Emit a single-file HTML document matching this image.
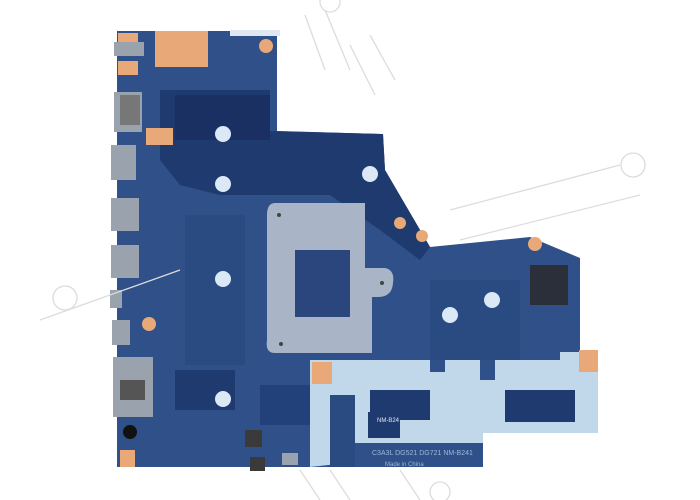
<!DOCTYPE html>
<html><head><meta charset="utf-8"><style>html,body{margin:0;padding:0;background:#fff;width:700px;height:500px;overflow:hidden}</style></head>
<body>
<svg width="700" height="500" viewBox="0 0 700 500" xmlns="http://www.w3.org/2000/svg">
<rect width="700" height="500" fill="#fff"/>
<!-- board -->
<polygon points="117,31 277,31 277,131 383,134 385,170 430,247 530,237 580,258 580,352 598,356 598,433 483,433 483,467 117,467" fill="#2f5088"/>
<!-- dark regions -->
<polygon points="160,90 270,90 270,131 383,134 385,170 430,247 420,260 380,230 330,195 220,195 180,185 160,160" fill="#1f3a6e"/>
<rect x="175" y="95" width="95" height="45" fill="#1a3062"/>
<rect x="185" y="215" width="60" height="150" fill="#2a4a82"/>
<rect x="175" y="370" width="60" height="40" fill="#1f3a6e"/>
<rect x="260" y="385" width="50" height="40" fill="#22407a"/>
<rect x="430" y="280" width="90" height="80" fill="#2a4a82"/>
<rect x="230" y="30" width="50" height="6" fill="#dfe8f2"/>
<!-- light region -->
<polygon points="310,360 430,360 430,372 445,372 445,360 480,360 480,380 495,380 495,360 560,360 560,352 580,352 598,356 598,433 483,433 483,448 310,467" fill="#c0d8ea"/>
<rect x="370" y="390" width="60" height="30" fill="#1f3a6e"/>
<rect x="368" y="412" width="32" height="26" fill="#1f3a6e"/>
<rect x="505" y="390" width="70" height="32" fill="#1f3a6e"/>
<rect x="330" y="395" width="25" height="72" fill="#2a4a82"/>
<rect x="355" y="443" width="128" height="24" fill="#2f5088"/>
<text x="372" y="455" font-family="Liberation Sans,sans-serif" font-size="7" fill="#9fb6d6">C3A3L DG521 DG721 NM-B241</text>
<text x="385" y="466" font-family="Liberation Sans,sans-serif" font-size="6" fill="#9fb6d6">Made in China</text>
<text x="377" y="422" font-family="Liberation Sans,sans-serif" font-size="6" fill="#dfe8f2">NM-B24</text>
<!-- heatsink bracket -->
<path d="M275,203 H365 V268 H385 Q395,270 393,283 Q392,297 378,297 H372 V353 H275 Q265,353 267,340 V215 Q267,203 275,203 Z" fill="#a9b5c6"/>
<rect x="295" y="250" width="55" height="67" fill="#2a467c"/>
<circle cx="279" cy="215" r="2" fill="#444"/><circle cx="281" cy="344" r="2" fill="#444"/><circle cx="382" cy="283" r="2" fill="#444"/>
<!-- holes -->
<g fill="#dbe8f5">
<circle cx="223" cy="134" r="8"/><circle cx="223" cy="184" r="8"/><circle cx="370" cy="174" r="8"/>
<circle cx="223" cy="279" r="8"/><circle cx="223" cy="399" r="8"/><circle cx="492" cy="300" r="8"/><circle cx="450" cy="315" r="8"/>
</g>
<!-- copper pads -->
<g fill="#e8a878">
<rect x="155" y="31" width="53" height="36"/>
<rect x="118" y="33" width="20" height="12"/><rect x="118" y="61" width="20" height="14"/>
<rect x="146" y="128" width="27" height="17"/>
<circle cx="266" cy="46" r="7"/><circle cx="149" cy="324" r="7"/><circle cx="129" cy="486" r="0"/>
<circle cx="400" cy="223" r="6"/><circle cx="422" cy="236" r="6"/><circle cx="535" cy="244" r="7"/>
<rect x="312" y="362" width="20" height="22"/><rect x="579" y="350" width="19" height="22"/>
<rect x="120" y="450" width="15" height="17"/>
</g>
<!-- connectors -->
<g fill="#9aa2ad">
<rect x="114" y="42" width="30" height="14"/>
<rect x="114" y="92" width="28" height="40"/>
<rect x="111" y="145" width="25" height="35"/>
<rect x="111" y="198" width="28" height="33"/>
<rect x="111" y="245" width="28" height="33"/>
<rect x="110" y="290" width="12" height="18"/>
<rect x="112" y="320" width="18" height="25"/>
<rect x="113" y="357" width="40" height="60"/>
<rect x="282" y="453" width="16" height="12"/>
</g>
<rect x="120" y="380" width="25" height="20" fill="#555"/>
<rect x="120" y="95" width="20" height="30" fill="#777"/>
<rect x="530" y="265" width="38" height="40" fill="#2b2f3a"/>
<rect x="245" y="430" width="17" height="17" fill="#3a3a3a"/>
<rect x="250" y="457" width="15" height="14" fill="#3a3a3a"/>
<circle cx="130" cy="432" r="7" fill="#111"/>
<!-- watermark lines -->
<g stroke="#dcdcdc" stroke-width="1.3" fill="none">
<line x1="305" y1="15" x2="325" y2="70"/><line x1="325" y1="10" x2="350" y2="70"/>
<line x1="350" y1="45" x2="375" y2="95"/><line x1="370" y1="35" x2="395" y2="80"/>
<line x1="450" y1="210" x2="620" y2="165"/><line x1="460" y1="240" x2="640" y2="195"/>
<line x1="40" y1="320" x2="180" y2="270"/>
<circle cx="65" cy="298" r="12"/><circle cx="633" cy="165" r="12"/><circle cx="330" cy="2" r="10"/><circle cx="440" cy="492" r="10"/>
<line x1="300" y1="470" x2="320" y2="500"/><line x1="330" y1="470" x2="350" y2="500"/><line x1="400" y1="470" x2="420" y2="500"/>
</g>
</svg>
</body></html>
